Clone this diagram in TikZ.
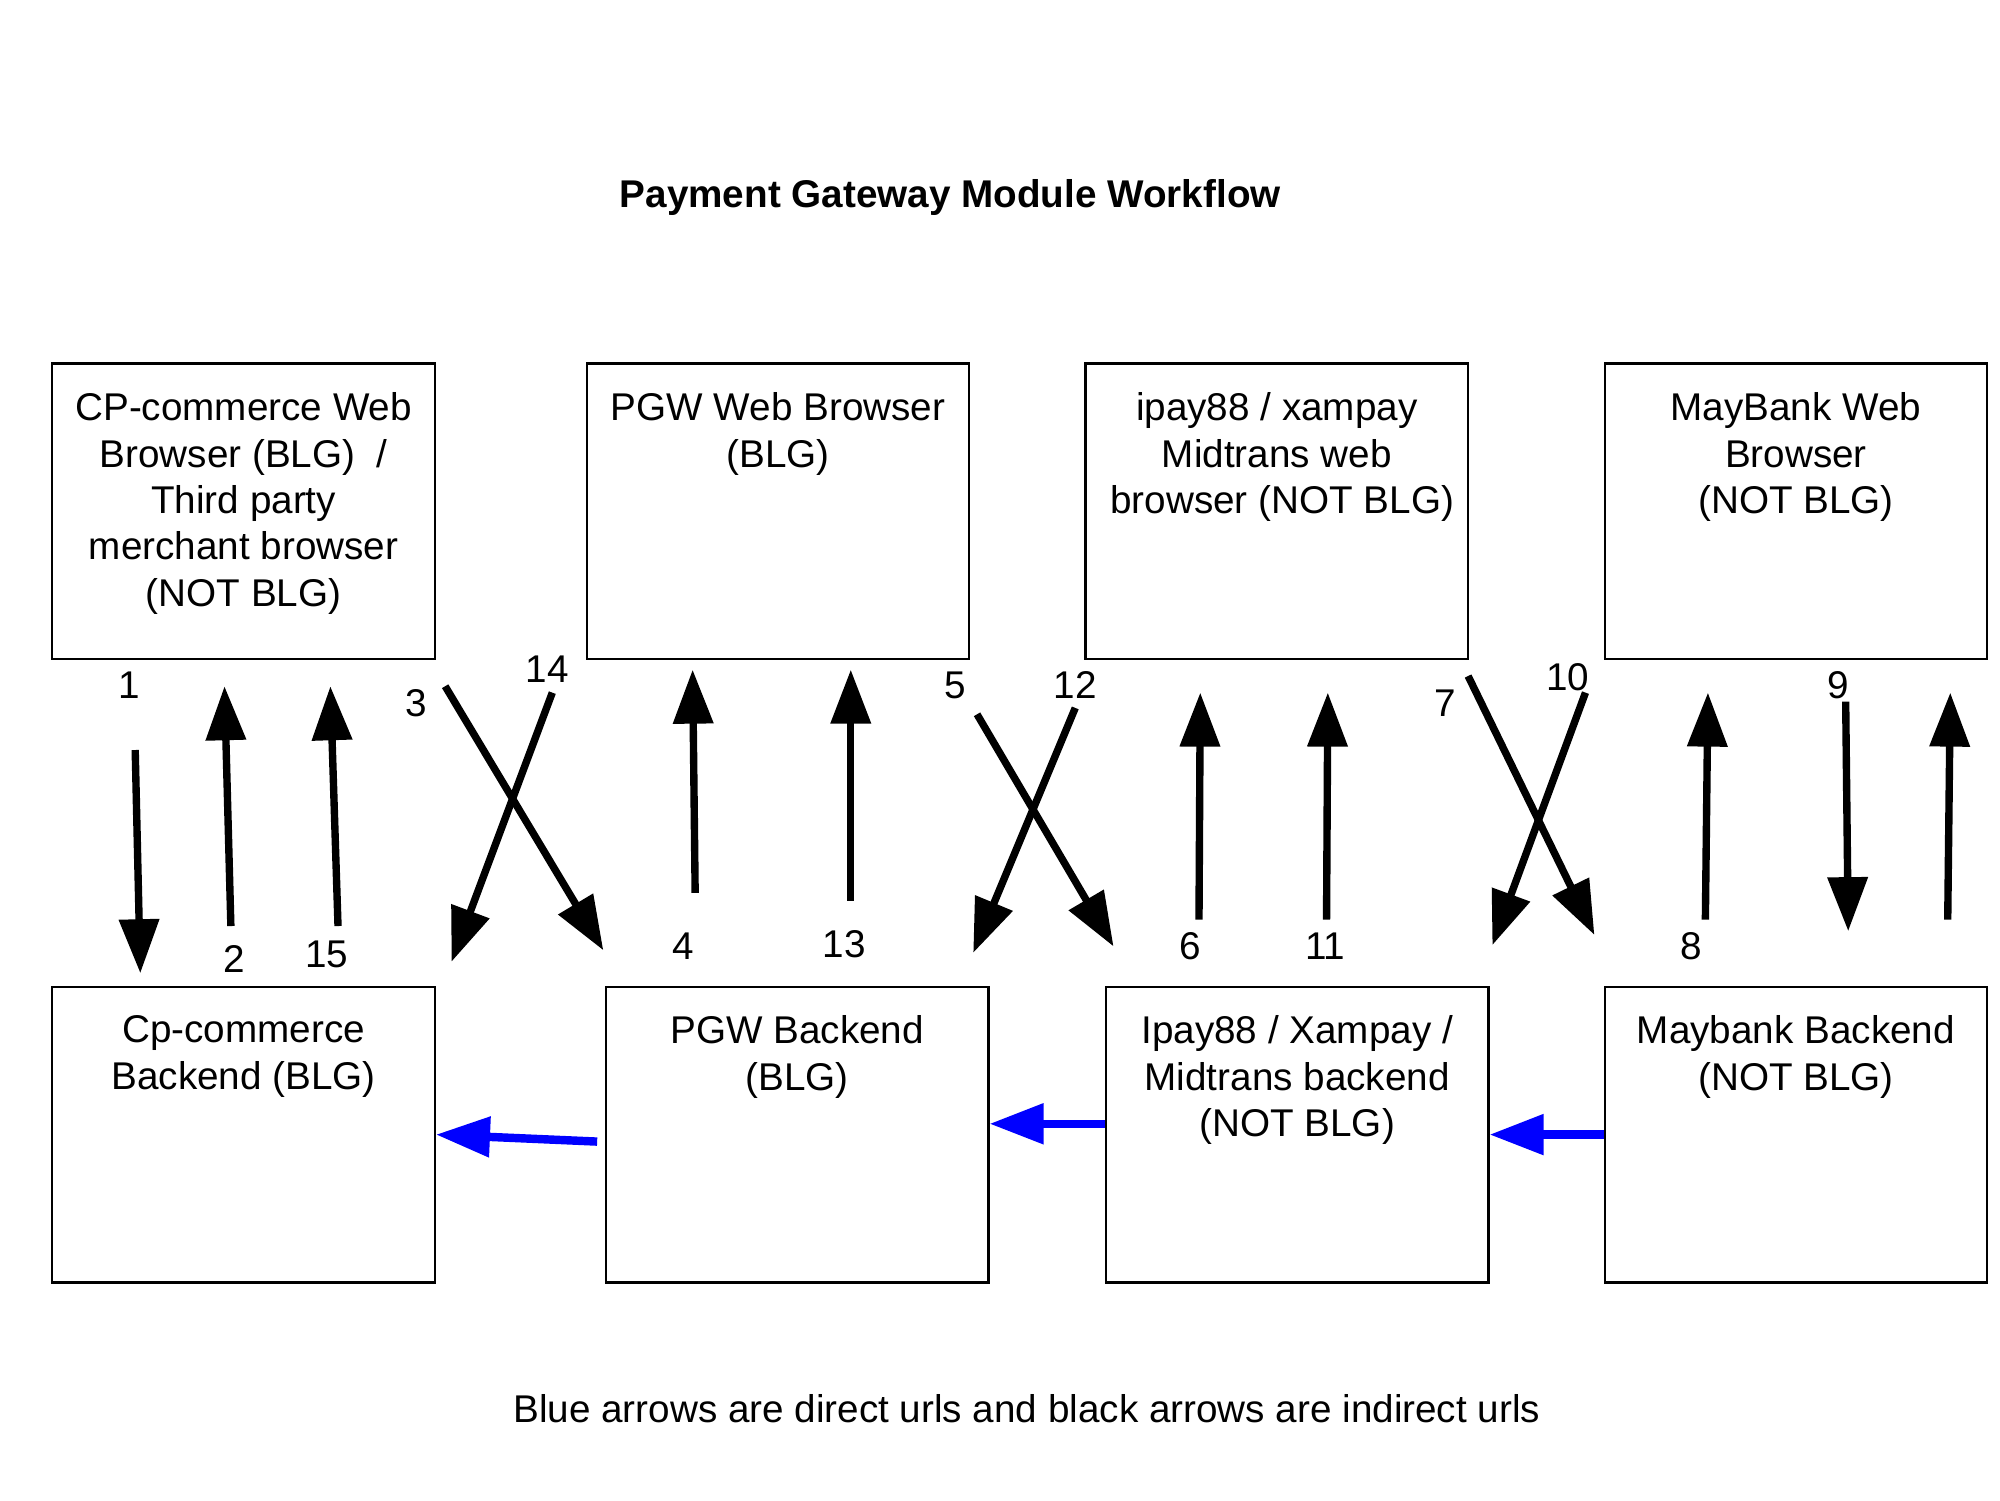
\documentclass[tikz,border=0pt]{standalone}
\usepackage{fontspec}
\setmainfont{Liberation Sans}
\usepackage{tikz}
\usetikzlibrary{arrows.meta}

\begin{document}
\begin{tikzpicture}[x=0.012755cm, y=-0.012755cm,
  font=\fontsize{11}{13.2}\selectfont,
  box/.style={draw, line width=0.6pt, minimum width=3.8265cm, minimum height=2.959cm, inner sep=0},
  boxtext/.style={anchor=north, align=center, inner sep=0},
  flow/.style={line width=2.1pt, -{Triangle[length=0.54cm,width=0.39cm]}},
  direct/.style={flow, blue, line width=2.4pt},
  num/.style={inner sep=0}]
	\fill[white] (0,0) rectangle (1568,1176);
	\useasboundingbox (0,0) rectangle (1568,1176);

	\node[font=\fontsize{11}{13.2}\selectfont\bfseries] (title) at (745,155) {Payment Gateway Module Workflow};

	% browsers on top, backends below
	\foreach \b/\x/\y/\t in {cpweb/191/401/{CP-commerce Web\\Browser (BLG)~~/\\Third party\\merchant browser\\(NOT BLG)},
			pgwweb/610/401/{PGW Web Browser\\(BLG)},
			ipayweb/1001/401/{ipay88 / xampay\\Midtrans web\\~browser (NOT BLG)},
			mbweb/1408/401/{MayBank Web\\Browser\\(NOT BLG)},
			cpback/191/889.5/{Cp-commerce\\Backend (BLG)},
			pgwback/625/889.5/{PGW Backend\\(BLG)},
			ipayback/1017/889.5/{Ipay88 / Xampay /\\Midtrans backend\\(NOT BLG)},
			mbback/1408/889.5/{Maybank Backend\\(NOT BLG)}}{
		\node[box] (\b) at (\x,\y) {};
		\node[boxtext] (\b-text) at ([yshift=-0.295cm]\b.north) {\t};
	}

	% indirect urls
	\foreach \n/\xa/\ya/\xb/\yb in {1/106/588/110/763, 2/181/726/176/538, 15/265/726/259/538,
			3/349/538/473/745, 14/433/543/354/754, 4/545/700/543/525, 13/667/706/667/525,
			5/766/560/873/742, 12/843/555/763/747, 6/940/721/941/543, 11/1040/721/1041/543,
			7/1151/530/1250/733, 10/1243/543/1170/741, 8/1337/721/1339/543,
			9/1447/550/1449/730, last/1527/721/1529/543}{
		\coordinate (t\n) at (\xa,\ya);
		\coordinate (h\n) at (\xb,\yb);
		\draw[flow] (t\n) -- (h\n);
	}
	\foreach \n/\x/\y in {1/101/537, 2/184/752, 15/256/748, 3/326/551, 14/429/525, 4/536/742,
			13/662/740, 5/749/537, 12/843/537, 6/933/742, 11/1039/742, 7/1133/551,
			10/1229/531, 8/1326/742, 9/1441/537}{
		\node[num] (l\n) at (\x,\y) {\n};
	}

	% direct urls
	\draw[direct] ([xshift=-0.077cm,yshift=-0.07cm]pgwback.west) -- (cpback.east);
	\draw[direct] ([yshift=0.108cm]ipayback.west) -- ([yshift=0.108cm]pgwback.east);
	\draw[direct] (mbback.west) -- (ipayback.east);

	\node (note) at (805,1104) {Blue arrows are direct urls and black arrows are indirect urls};
\end{tikzpicture}
\end{document}
